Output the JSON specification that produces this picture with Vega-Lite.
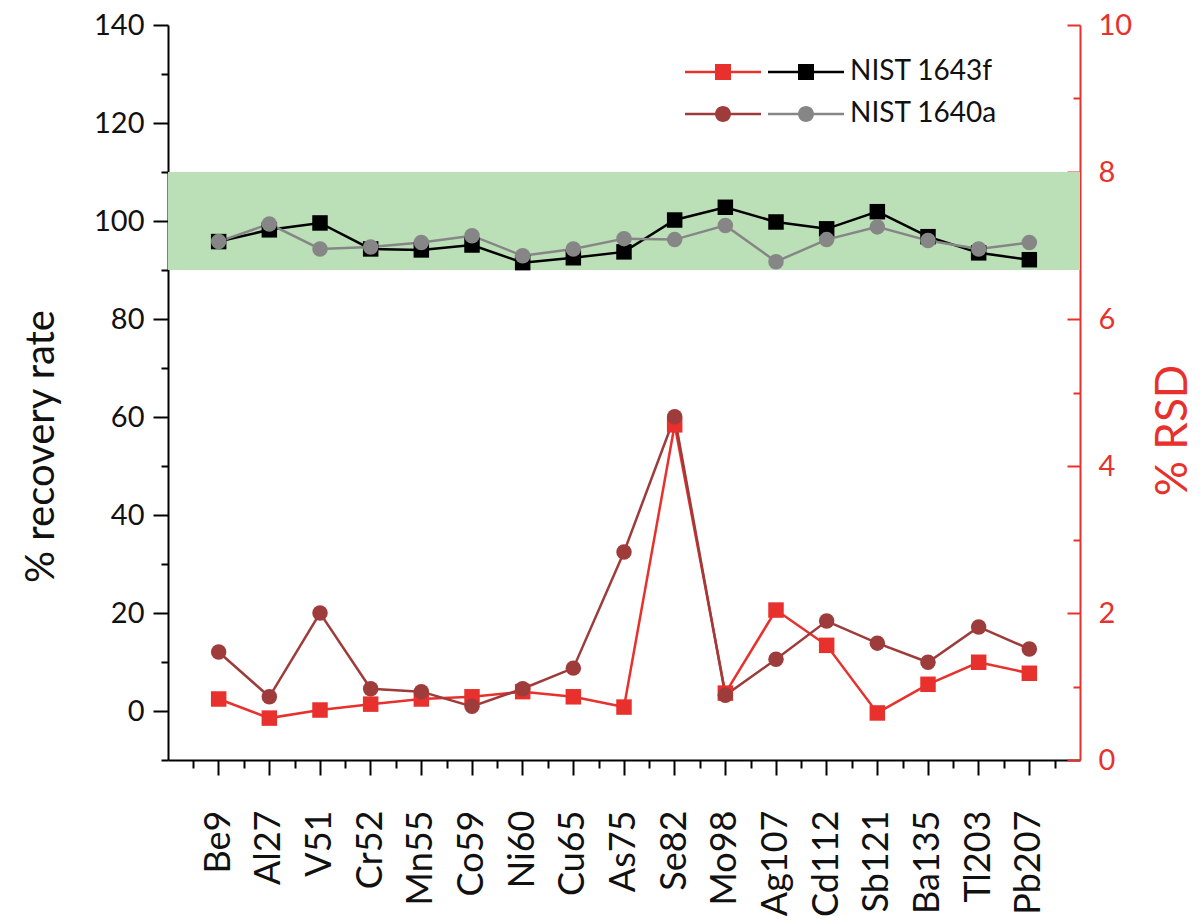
{
  "$schema": "https://vega.github.io/schema/vega-lite/v6.json",
  "autosize": {"type": "none"},
  "padding": {"left": 168, "top": 25, "right": 124, "bottom": 164},
  "width": 912,
  "height": 735,
  "config": {"font": "Lato", "view": {"stroke": null}, "axis": {"grid": false}},
  "datasets": {
    "main": [
      {"element": "Be9", "series": "NIST 1643f", "recovery": 95.8, "rsd": 0.83},
      {"element": "Al27", "series": "NIST 1643f", "recovery": 98.2, "rsd": 0.57},
      {"element": "V51", "series": "NIST 1643f", "recovery": 99.6, "rsd": 0.68},
      {"element": "Cr52", "series": "NIST 1643f", "recovery": 94.3, "rsd": 0.76},
      {"element": "Mn55", "series": "NIST 1643f", "recovery": 94.1, "rsd": 0.83},
      {"element": "Co59", "series": "NIST 1643f", "recovery": 95.1, "rsd": 0.86},
      {"element": "Ni60", "series": "NIST 1643f", "recovery": 91.5, "rsd": 0.93},
      {"element": "Cu65", "series": "NIST 1643f", "recovery": 92.5, "rsd": 0.86},
      {"element": "As75", "series": "NIST 1643f", "recovery": 93.7, "rsd": 0.72},
      {"element": "Se82", "series": "NIST 1643f", "recovery": 100.2, "rsd": 4.56},
      {"element": "Mo98", "series": "NIST 1643f", "recovery": 102.8, "rsd": 0.91},
      {"element": "Ag107", "series": "NIST 1643f", "recovery": 99.8, "rsd": 2.04},
      {"element": "Cd112", "series": "NIST 1643f", "recovery": 98.4, "rsd": 1.56},
      {"element": "Sb121", "series": "NIST 1643f", "recovery": 101.9, "rsd": 0.64},
      {"element": "Ba135", "series": "NIST 1643f", "recovery": 96.8, "rsd": 1.03},
      {"element": "Tl203", "series": "NIST 1643f", "recovery": 93.5, "rsd": 1.33},
      {"element": "Pb207", "series": "NIST 1643f", "recovery": 92.1, "rsd": 1.18},
      {"element": "Be9", "series": "NIST 1640a", "recovery": 95.8, "rsd": 1.47},
      {"element": "Al27", "series": "NIST 1640a", "recovery": 99.4, "rsd": 0.86},
      {"element": "V51", "series": "NIST 1640a", "recovery": 94.3, "rsd": 2.0},
      {"element": "Cr52", "series": "NIST 1640a", "recovery": 94.7, "rsd": 0.97},
      {"element": "Mn55", "series": "NIST 1640a", "recovery": 95.6, "rsd": 0.93},
      {"element": "Co59", "series": "NIST 1640a", "recovery": 97.0, "rsd": 0.73},
      {"element": "Ni60", "series": "NIST 1640a", "recovery": 92.9, "rsd": 0.97},
      {"element": "Cu65", "series": "NIST 1640a", "recovery": 94.3, "rsd": 1.25},
      {"element": "As75", "series": "NIST 1640a", "recovery": 96.4, "rsd": 2.83},
      {"element": "Se82", "series": "NIST 1640a", "recovery": 96.2, "rsd": 4.67},
      {"element": "Mo98", "series": "NIST 1640a", "recovery": 99.1, "rsd": 0.88},
      {"element": "Ag107", "series": "NIST 1640a", "recovery": 91.7, "rsd": 1.37},
      {"element": "Cd112", "series": "NIST 1640a", "recovery": 96.2, "rsd": 1.89},
      {"element": "Sb121", "series": "NIST 1640a", "recovery": 98.8, "rsd": 1.59},
      {"element": "Ba135", "series": "NIST 1640a", "recovery": 96.0, "rsd": 1.33},
      {"element": "Tl203", "series": "NIST 1640a", "recovery": 94.3, "rsd": 1.81},
      {"element": "Pb207", "series": "NIST 1640a", "recovery": 95.6, "rsd": 1.51}
    ],
    "band": [{"lo": 90, "hi": 110}]
  },
  "resolve": {
    "scale": {"y": "independent", "color": "independent", "shape": "independent", "stroke": "independent"},
    "axis": {"x": "independent", "y": "independent"}
  },
  "layer": [
    {
      "layer": [
        {
          "data": {"name": "band"},
          "mark": {"type": "rect", "color": "#bbdfb7"},
          "encoding": {
            "y": {
              "field": "lo", "type": "quantitative",
              "scale": {"domain": [-10, 140], "nice": false, "zero": false},
              "axis": {
                "orient": "left",
                "values": [-10, 0, 10, 20, 30, 40, 50, 60, 70, 80, 90, 100, 110, 120, 130, 140],
                "labelExpr": "datum.value % 20 === 0 ? datum.label : ''",
                "tickSize": {"condition": {"test": "datum.value % 20 === 0", "value": 15}, "value": 7},
                "tickWidth": 2, "domainWidth": 2,
                "domainColor": "#000000", "tickColor": "#000000", "labelColor": "#111111",
                "labelFontSize": 29, "labelPadding": 9,
                "title": "% recovery rate", "titleFontSize": 40, "titleFontWeight": "normal", "titleColor": "#111111",
                "titleAngle": 270, "titleX": -115, "titleY": 421, "titleAlign": "center", "titleBaseline": "alphabetic"
              }
            },
            "y2": {"field": "hi"}
          }
        },
        {
          "data": {"name": "main"},
          "mark": {"type": "line", "strokeWidth": 2.5},
          "encoding": {
            "x": {
              "field": "element", "type": "nominal",
              "scale": {"type": "band", "domain": ["Be9", "Al27", "V51", "Cr52", "Mn55", "Co59", "Ni60", "Cu65", "As75", "Se82", "Mo98", "Ag107", "Cd112", "Sb121", "Ba135", "Tl203", "Pb207"], "paddingInner": 0, "paddingOuter": 0.5},
              "axis": {
                "orient": "bottom", "title": null, "labelAngle": 270, "labelFontSize": 36, "labelPadding": 35,
                "tickSize": 15, "tickWidth": 2, "domainWidth": 2,
                "domainColor": "#000000", "tickColor": "#000000", "labelColor": "#111111", "tickBand": "center"
              }
            },
            "y": {"field": "recovery", "type": "quantitative", "scale": {"domain": [-10, 140], "nice": false, "zero": false}},
            "stroke": {"field": "series", "type": "nominal", "scale": {"range": ["#868686", "#000000"]}, "legend": null}
          }
        },
        {
          "data": {"name": "main"},
          "transform": [{"filter": "datum.series === 'NIST 1643f'"}],
          "mark": {"type": "square", "opacity": 1, "size": 240},
          "encoding": {
            "x": {"field": "element", "type": "nominal"},
            "y": {"field": "recovery", "type": "quantitative"},
            "color": {"field": "series", "type": "nominal", "scale": {"domain": ["NIST 1643f", "NIST 1640a"], "range": ["#000000", "#868686"]}}
          }
        },
        {
          "data": {"name": "main"},
          "transform": [{"filter": "datum.series === 'NIST 1640a'"}],
          "mark": {"type": "circle", "opacity": 1, "size": 240},
          "encoding": {
            "x": {"field": "element", "type": "nominal"},
            "y": {"field": "recovery", "type": "quantitative"},
            "color": {"field": "series", "type": "nominal", "scale": {"domain": ["NIST 1643f", "NIST 1640a"], "range": ["#000000", "#868686"]}}
          }
        },
        {
          "data": {"name": "main"},
          "transform": [{"filter": "false"}],
          "mark": {"type": "point", "filled": true, "opacity": 1, "size": 256},
          "encoding": {
            "color": {
              "field": "series", "type": "nominal",
              "scale": {"domain": ["NIST 1643f", "NIST 1640a"], "range": ["#000000", "#868686"]},
              "legend": {
                "orient": "none", "legendX": 624, "legendY": 33, "title": null, "padding": 0,
                "symbolSize": 256, "symbolStrokeWidth": 0, "symbolOpacity": 1,
                "labelFontSize": 28, "labelColor": "#111111", "labelOffset": 30, "rowPadding": 14
              }
            },
            "shape": {
              "field": "series", "type": "nominal",
              "scale": {"domain": ["NIST 1643f", "NIST 1640a"], "range": ["M-4.75,-0.16H4.75V0.16H-4.75ZM-1,-1H1V1H-1Z", "M-4.75,-0.16H4.75V0.16H-4.75ZM-1,0A1,1 0 1,1 1,0A1,1 0 1,1 -1,0Z"]}
            }
          }
        }
      ]
    },
    {
      "layer": [
        {
          "data": {"name": "main"},
          "mark": {"type": "line", "strokeWidth": 2.5},
          "encoding": {
            "x": {
              "field": "element", "type": "nominal",
              "axis": {
                "orient": "bottom", "title": null, "labels": false, "domain": false,
                "tickSize": 8, "tickWidth": 2, "tickColor": "#000000", "tickBand": "extent"
              }
            },
            "y": {
              "field": "rsd", "type": "quantitative",
              "scale": {"domain": [0, 10], "nice": false},
              "axis": {
                "orient": "right",
                "values": [0, 1, 2, 3, 4, 5, 6, 7, 8, 9, 10],
                "format": "d",
                "labelExpr": "datum.value % 2 === 0 ? datum.label : ''",
                "tickSize": {"condition": {"test": "datum.value % 2 === 0", "value": -13}, "value": -7},
                "tickWidth": 2, "domainWidth": 2,
                "domainColor": "#e8302c", "tickColor": "#e8302c", "labelColor": "#e8302c",
                "labelFontSize": 29, "labelPadding": 31,
                "title": "% RSD", "titleFontSize": 44, "titleFontWeight": "normal", "titleColor": "#e8302c",
                "titleAngle": 270, "titleX": 106, "titleY": 405, "titleAlign": "center", "titleBaseline": "alphabetic"
              }
            },
            "stroke": {"field": "series", "type": "nominal", "scale": {"range": ["#9e3b3b", "#e8302c"]}, "legend": null}
          }
        },
        {
          "data": {"name": "main"},
          "transform": [{"filter": "datum.series === 'NIST 1643f'"}],
          "mark": {"type": "square", "opacity": 1, "size": 240},
          "encoding": {
            "x": {"field": "element", "type": "nominal"},
            "y": {"field": "rsd", "type": "quantitative"},
            "color": {"field": "series", "type": "nominal", "scale": {"domain": ["NIST 1643f", "NIST 1640a"], "range": ["#e8302c", "#9e3b3b"]}}
          }
        },
        {
          "data": {"name": "main"},
          "transform": [{"filter": "datum.series === 'NIST 1640a'"}],
          "mark": {"type": "circle", "opacity": 1, "size": 240},
          "encoding": {
            "x": {"field": "element", "type": "nominal"},
            "y": {"field": "rsd", "type": "quantitative"},
            "color": {"field": "series", "type": "nominal", "scale": {"domain": ["NIST 1643f", "NIST 1640a"], "range": ["#e8302c", "#9e3b3b"]}}
          }
        },
        {
          "data": {"name": "main"},
          "transform": [{"filter": "false"}],
          "mark": {"type": "point", "filled": true, "opacity": 1, "size": 256},
          "encoding": {
            "color": {
              "field": "series", "type": "nominal",
              "scale": {"domain": ["NIST 1643f", "NIST 1640a"], "range": ["#e8302c", "#9e3b3b"]},
              "legend": {
                "orient": "none", "legendX": 541, "legendY": 33, "title": null, "padding": 0,
                "symbolSize": 256, "symbolStrokeWidth": 0, "symbolOpacity": 1,
                "labelExpr": "''", "labelFontSize": 28, "rowPadding": 14
              }
            },
            "shape": {
              "field": "series", "type": "nominal",
              "scale": {"domain": ["NIST 1643f", "NIST 1640a"], "range": ["M-4.75,-0.16H4.75V0.16H-4.75ZM-1,-1H1V1H-1Z", "M-4.75,-0.16H4.75V0.16H-4.75ZM-1,0A1,1 0 1,1 1,0A1,1 0 1,1 -1,0Z"]}
            }
          }
        }
      ]
    }
  ]
}
